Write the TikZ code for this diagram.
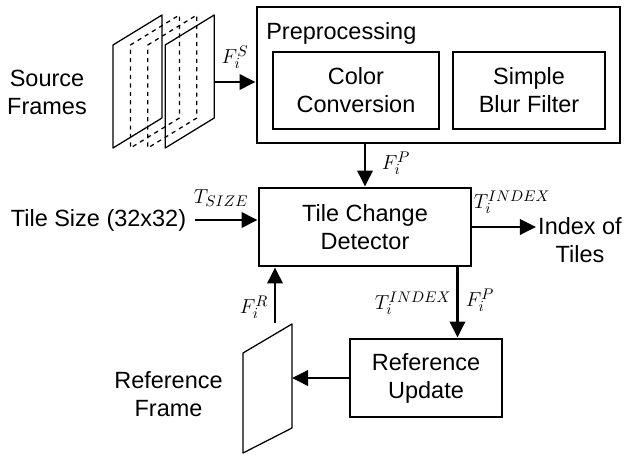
\documentclass[tikz,border=0pt]{standalone}
\usepackage{fontspec}
\setmainfont{Liberation Sans}
\usepackage{tikz}
\usetikzlibrary{arrows.meta}
\DeclareMathSizes{14.4}{14.4}{11}{8}
\newcommand{\boxfont}{\fontsize{16.7}{20}\selectfont}
\newcommand{\lblfont}{\fontsize{14.4}{16}\selectfont}

\begin{document}
\begin{tikzpicture}
    [
        box/.style = {draw, shape=rectangle, line width=2.1pt, minimum height=1.95cm, align=center, font=\boxfont},
        txt/.style = {align=center, font=\boxfont},
        lbl/.style = {font=\lblfont, inner sep=0pt},
        frm/.style = {line width=0.9pt, line join=round},
        arr/.style = {-{Triangle[length=0.4cm, width=0.38cm]}, line width=2.1pt},
    ]
    \useasboundingbox (0,0) rectangle (15.6,-11.375);

    % boxes
    \node[box, minimum width=9.075cm, minimum height=3.4cm] (pre) at (10.9625,-1.875) {};
    \node[txt, anchor=west, inner sep=0pt] (pretitle) at (6.65,-0.825) {Preprocessing};
    \node[box, minimum width=4.15cm, minimum height=1.925cm] (color) at (8.9,-2.2625) {Color\\Conversion};
    \node[box, minimum width=3.8cm, minimum height=1.925cm] (blur) at (13.225,-2.2625) {Simple\\Blur Filter};
    \node[box, minimum width=5.3cm] (tcd) at (9.125,-5.675) {Tile Change\\Detector};
    \node[box, minimum width=3.8cm] (refup) at (10.65,-9.45) {Reference\\Update};

    % plain texts
    \node[txt] (src) at (1.175,-2.3) {Source\\Frames};
    \node[txt] (tilesize) at (2.4625,-5.5) {Tile Size (32x32)};
    \node[txt, inner sep=0.05cm] (idx) at (14.5,-6.0) {Index of\\Tiles};
    \node[txt] (reftxt) at (4.2125,-9.85) {Reference\\Frame};

    % source frames
    \draw[frm] (2.825,-1.125) -- (4.05,-0.375) -- (4.05,-2.95) -- (2.825,-3.7) -- cycle;
    \draw[frm, dashed] (3.26,-1.125) -- (4.485,-0.375) -- (4.485,-2.95) -- (3.26,-3.7) -- cycle;
    \draw[frm, dashed] (3.695,-1.125) -- (4.92,-0.375) -- (4.92,-2.95) -- (3.695,-3.7) -- cycle;
    \draw[frm] (4.13,-1.125) -- (5.355,-0.375) -- (5.355,-2.95) -- (4.13,-3.7) -- cycle;
    \coordinate (srcout) at (5.355,-2.05);

    % reference frame
    \draw[frm] (6.075,-8.825) -- (7.3,-8.1) -- (7.3,-10.7) -- (6.075,-11.325) -- cycle;
    \coordinate (rfin) at (7.3,-9.45);
    \coordinate (rfout) at (6.875,-8.075);

    % labels
    \node[lbl] (fs) at (5.875,-1.425) {$F_i^S$};
    \node[lbl] (fp1) at (9.9,-4.075) {$F_i^P$};
    \node[lbl] (tsize) at (5.525,-4.95) {$T_{SIZE}$};
    \node[lbl] (tidx1) at (12.8,-5.05) {$T_i^{INDEX}$};
    \node[lbl] (tidx2) at (10.325,-7.575) {$T_i^{INDEX}$};
    \node[lbl] (fp2) at (12.0,-7.5) {$F_i^P$};
    \node[lbl] (fr) at (6.35,-7.675) {$F_i^R$};

    % arrows
    \draw[arr] (srcout) -- (srcout -| pre.west);
    \draw[arr] (tcd.north |- pre.south) -- (tcd.north);
    \draw[arr] ([xshift=0.1cm]tilesize.east) -- (tilesize.east -| tcd.west);
    \draw[arr] (tcd.east) -- (tcd.east -| idx.west);
    \draw[arr] ([xshift=-0.375cm]tcd.south east) -- ([xshift=-0.375cm]tcd.south east |- refup.north);
    \draw[arr] (refup.west) -- (rfin);
    \draw[arr] (rfout) -- (rfout |- tcd.south);
\end{tikzpicture}
\end{document}
